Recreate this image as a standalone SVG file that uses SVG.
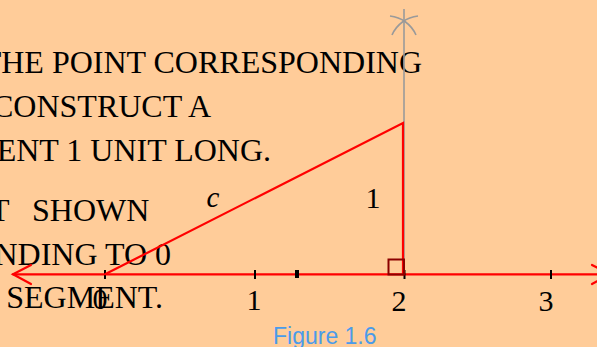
<svg xmlns="http://www.w3.org/2000/svg" width="597" height="347" viewBox="0 0 597 347">
<style>
.t{font-family:"Liberation Serif","Times New Roman",serif;font-size:32px;fill:#000}
.lbl{font-family:"Liberation Serif","Times New Roman",serif;font-size:30px;fill:#000;text-anchor:middle}
.red{stroke:#ff0000;stroke-width:2.2;fill:none;stroke-linecap:round}
.gray{stroke:#9a9a9a;stroke-width:1.6;fill:none}
.tick{stroke:#000;stroke-width:2}
</style>
<rect width="597" height="347" fill="#ffcc99"/>
<g id="text-block">
<text class="t" x="422" y="73" text-anchor="end" font-size="32.5">THE POINT CORRESPONDING</text>
<text class="t" x="211" y="117" text-anchor="end" font-size="31">CONSTRUCT A</text>
<text class="t" x="271" y="161" text-anchor="end">ENT 1 UNIT LONG.</text>
<text class="t" y="221"><tspan x="-10">T</tspan><tspan x="32">SHOWN</tspan></text>
<text class="t" x="171" y="265" text-anchor="end">NDING TO 0</text>
<text class="t" x="163" y="308" text-anchor="end">SEGMENT.</text>
</g>
<g id="construction">
<line class="gray" x1="404" y1="9" x2="404" y2="274"/>
<path class="gray" d="M390,16 A32,32 0 0 1 416,35"/>
<path class="gray" d="M418,16 A32,32 0 0 0 392,35"/>
</g>
<g id="number-line">
<line class="red" x1="13" y1="274.3" x2="612" y2="274.3"/>
<polyline class="red" points="31,265 13,274.3 31,284"/>
<polyline class="red" points="592,265 610,274.3 592,284"/>
<line class="tick" x1="105" y1="270" x2="105" y2="279"/>
<line class="tick" x1="255" y1="270" x2="255" y2="279"/>
<line class="tick" x1="404.5" y1="270" x2="404.5" y2="279"/>
<line class="tick" x1="551" y1="270" x2="551" y2="279"/>
<rect x="295" y="270" width="4" height="8" fill="#000"/>
<text class="lbl" x="100" y="309">0</text>
<text class="lbl" x="254" y="310">1</text>
<text class="lbl" x="399" y="311">2</text>
<text class="lbl" x="546" y="311">3</text>
</g>
<g id="triangle">
<polyline class="red" points="105,274.3 403,123 403,274.3"/>
<rect x="388.5" y="259.5" width="15.5" height="15" fill="none" stroke="#8b0000" stroke-width="2"/>
<text x="213" y="207" font-family="Liberation Serif,serif" font-style="italic" font-size="29" text-anchor="middle">c</text>
<text class="lbl" x="373" y="208">1</text>
</g>
<text x="273" y="344" font-family="Liberation Sans,Arial,sans-serif" font-size="23" fill="#4a9bea">Figure 1.6</text>
</svg>
